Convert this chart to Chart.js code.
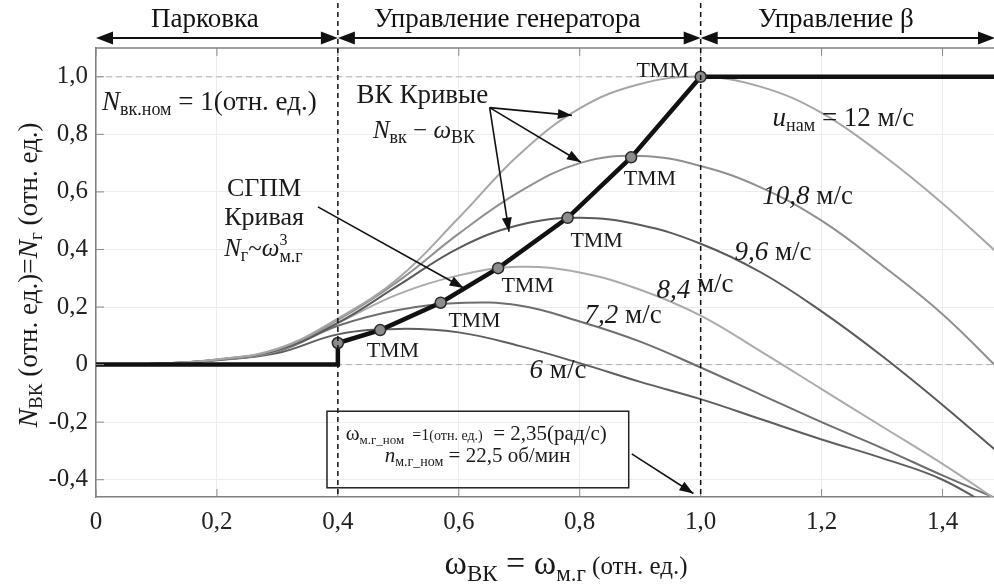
<!DOCTYPE html>
<html lang="ru">
<head>
  <meta charset="UTF-8">
  <title>Кривые ВК и СГПМ</title>
  <script src="https://cdn.jsdelivr.net/npm/chart.js"></script>
  <style>
    html, body { margin: 0; padding: 0; background: #fff; overflow: hidden; }
    #wrap { width: 1010px; height: 587px; }
  </style>
</head>
<body>
<div id="wrap"><canvas id="chart"></canvas></div>
<script>
  // данные
  const omega = [0, 0.1, 0.2, 0.3, 0.4, 0.5, 0.6, 0.7, 0.8, 0.9, 1.0, 1.1, 1.2, 1.3, 1.4, 1.5];
  const n120 = [0, 0.003, 0.018, 0.055, 0.16, 0.30, 0.51, 0.73, 0.89, 0.975, 1.0, 0.965, 0.875, 0.73, 0.56, 0.37];
  const n108 = [0, 0.003, 0.018, 0.053, 0.155, 0.29, 0.455, 0.60, 0.70, 0.725, 0.69, 0.615, 0.50, 0.345, 0.175, -0.03];
  const n096 = [0, 0.003, 0.017, 0.05, 0.145, 0.275, 0.405, 0.485, 0.51, 0.485, 0.42, 0.32, 0.185, 0.03, -0.14, -0.32];
  const n084 = [0, 0.003, 0.017, 0.048, 0.145, 0.245, 0.31, 0.34, 0.32, 0.26, 0.17, 0.045, -0.085, -0.215, -0.345, -0.485];
  const n072 = [0, 0.003, 0.016, 0.045, 0.135, 0.19, 0.214, 0.205, 0.15, 0.08, -0.01, -0.105, -0.20, -0.29, -0.385, -0.475];
  const n060 = [0, 0.003, 0.015, 0.04, 0.105, 0.124, 0.112, 0.065, 0.005, -0.06, -0.12, -0.19, -0.26, -0.325, -0.40, -0.52];
  const curveColors = ['#a6a6a6', '#909090', '#5a5a5a', '#ababab', '#6e6e6e', '#5e5e5e'];

  // кривая СГПМ и точки ТММ
  const mpptX = [0, 0.4, 0.4, 0.47, 0.57, 0.665, 0.78, 0.885, 1.0, 1.5];
  const mpptY = [0, 0, 0.075, 0.12, 0.215, 0.335, 0.51, 0.72, 1.0, 1.0];
  const tmmX = [0.4, 0.47, 0.57, 0.665, 0.78, 0.885, 1.0];
  const tmmY = [0.075, 0.12, 0.215, 0.335, 0.51, 0.72, 1.0];

  const xTicks = [0, 0.2, 0.4, 0.6, 0.8, 1.0, 1.2, 1.4];
  const yTicks = [-0.4, -0.2, 0, 0.2, 0.4, 0.6, 0.8, 1.0];
  const regionEdges = [0, 0.4, 1.0, 1.5];
  const regionLabels = ['Парковка', 'Управление генератора', 'Управление β'];

  const SERIF = '"Liberation Serif", "DejaVu Serif", serif';
  const fmt = v => v === 0 ? '0' : v.toFixed(1).replace('.', ',');
  const pts = (xs, ys) => xs.map((x, i) => ({ x, y: ys[i] }));

  const curves = [n120, n108, n096, n084, n072, n060].map((ys, i) => ({
    data: pts(omega, ys),
    borderColor: curveColors[i],
    borderWidth: 2,
    pointRadius: 0,
    tension: 0.4,
    order: 3
  }));

  const datasets = [
    { data: pts(tmmX, tmmY), showLine: false, pointRadius: 5.5, pointBackgroundColor: '#8c8c8c',
      pointBorderColor: '#2a2a2a', pointBorderWidth: 1.5, order: 0 },
    { data: pts(mpptX, mpptY), borderColor: '#111', borderWidth: 4.5, pointRadius: 0, tension: 0, order: 1 },
    ...curves,
    { data: pts([0, 1.5], [1, 1]), borderColor: '#b0b0b0', borderWidth: 1, borderDash: [6, 4], pointRadius: 0, order: 5 },
    { data: pts([0, 1.5], [0, 0]), borderColor: '#b0b0b0', borderWidth: 1, borderDash: [6, 4], pointRadius: 0, order: 5 }
  ];

  // текст с индексами: [текст, размер, стиль, сдвиг, продвигать]
  function rich(ctx, parts, x, y, align) {
    const font = p => `${p[2] || ''} ${p[1]}px ${SERIF}`;
    let w = 0;
    parts.forEach(p => { ctx.font = font(p); if (p[4] !== false) w += ctx.measureText(p[0]).width; });
    let cx = align === 'center' ? x - w / 2 : x;
    parts.forEach(p => {
      ctx.font = font(p);
      ctx.fillText(p[0], cx, y + (p[3] || 0));
      if (p[4] !== false) cx += ctx.measureText(p[0]).width;
    });
  }

  function head(ctx, x1, y1, x2, y2, len, hw) {
    const a = Math.atan2(y2 - y1, x2 - x1);
    ctx.beginPath();
    ctx.moveTo(x2, y2);
    ctx.lineTo(x2 - len * Math.cos(a) + hw * Math.sin(a), y2 - len * Math.sin(a) - hw * Math.cos(a));
    ctx.lineTo(x2 - len * Math.cos(a) - hw * Math.sin(a), y2 - len * Math.sin(a) + hw * Math.cos(a));
    ctx.closePath();
    ctx.fill();
  }

  function arrow(ctx, x1, y1, x2, y2) {
    ctx.beginPath(); ctx.moveTo(x1, y1); ctx.lineTo(x2, y2); ctx.stroke();
    head(ctx, x1, y1, x2, y2, 14, 5);
  }

  const decor = {
    id: 'decor',
    afterDraw(chart) {
      const { ctx, chartArea: a, scales: { x, y } } = chart;
      const P = (xv, yv) => [x.getPixelForValue(xv), y.getPixelForValue(yv)];
      const line = (x1, y1, x2, y2) => { ctx.beginPath(); ctx.moveTo(x1, y1); ctx.lineTo(x2, y2); ctx.stroke(); };
      ctx.save();

      // рамка и внутренние засечки
      ctx.strokeStyle = '#808080'; ctx.lineWidth = 1.5;
      line(a.left, a.top, a.right, a.top);
      line(a.right, a.top, a.right, a.bottom);
      ctx.lineWidth = 1; ctx.strokeStyle = '#8a8a8a';
      xTicks.forEach(v => { const px = x.getPixelForValue(v); line(px, a.bottom, px, a.bottom - 8); line(px, a.top, px, a.top + 8); });
      yTicks.forEach(v => { const py = y.getPixelForValue(v); line(a.left, py, a.left + 8, py); line(a.right, py, a.right - 9, py); });

      // границы режимов
      ctx.strokeStyle = '#111'; ctx.lineWidth = 1.5; ctx.setLineDash([5, 4]);
      [regionEdges[1], regionEdges[2]].forEach(v => { const px = x.getPixelForValue(v); line(px, 3, px, a.bottom); });
      ctx.setLineDash([]);

      // стрелки режимов сверху
      ctx.fillStyle = '#111'; ctx.strokeStyle = '#111'; ctx.lineWidth = 2;
      const ay = 38;
      for (let i = 0; i < 3; i++) {
        const l = x.getPixelForValue(regionEdges[i]);
        const r = Math.min(x.getPixelForValue(regionEdges[i + 1]), 995);
        line(l + 4, ay, r - 4, ay);
        head(ctx, r - 10, ay, r, ay, 17, 6.5);
        head(ctx, l + 10, ay, l, ay, 17, 6.5);
        ctx.font = `27px ${SERIF}`; ctx.textAlign = 'center'; ctx.textBaseline = 'alphabetic';
        ctx.fillText(regionLabels[i], (l + r) / 2 - 12, 27);
      }
      ctx.textAlign = 'left';

      // подписи
      ctx.fillStyle = '#1a1a1a';
      let p = P(0.01, 0.883);
      rich(ctx, [['N', 27, 'italic'], ['вк.ном', 18, '', 5], [' = 1(отн. ед.)', 27]], p[0], p[1]);
      p = P(0.431, 0.91);
      rich(ctx, [['ВК Кривые', 27]], p[0], p[1]);
      p = P(0.458, 0.786);
      rich(ctx, [['N', 25, 'italic'], ['вк', 18, '', 5], [' − ', 25], ['ω', 25, 'italic'], ['ВК', 18, '', 5]], p[0], p[1]);
      p = P(0.278, 0.586);
      rich(ctx, [['СГПМ', 26]], p[0], p[1], 'center');
      p = P(0.278, 0.486);
      rich(ctx, [['Кривая', 26]], p[0], p[1], 'center');
      p = P(0.212, 0.376);
      rich(ctx, [['N', 25, 'italic'], ['г', 18, '', 5], ['~', 25], ['ω', 25, 'italic'], ['3', 16, '', -11, false], ['м.г', 18, '', 6]], p[0], p[1]);

      // ТММ
      [[0.937, 1.0], [0.916, 0.624], [0.828, 0.41], [0.714, 0.252], [0.626, 0.131], [0.491, 0.028]].forEach(t => {
        const q = P(t[0], t[1]);
        rich(ctx, [['ТММ', 22]], q[0], q[1], 'center');
      });

      // скорости ветра
      p = P(1.119, 0.828);
      rich(ctx, [['u', 27, 'italic'], ['нам', 18, '', 5], [' = 12 м/с', 27]], p[0], p[1]);
      p = P(1.102, 0.559);
      rich(ctx, [['10,8', 27, 'italic'], [' м/с', 27]], p[0], p[1]);
      p = P(1.056, 0.362);
      rich(ctx, [['9,6', 27, 'italic'], [' м/с', 27]], p[0], p[1]);
      p = P(0.927, 0.231);
      rich(ctx, [['8,4', 27, 'italic'], [' м/с', 27, '', -6]], p[0], p[1]);
      p = P(0.808, 0.145);
      rich(ctx, [['7,2', 27, 'italic'], [' м/с', 27]], p[0], p[1]);
      p = P(0.717, -0.045);
      rich(ctx, [['6', 27, 'italic'], [' м/с', 27]], p[0], p[1]);

      // стрелки-указатели
      ctx.strokeStyle = '#111'; ctx.fillStyle = '#111'; ctx.lineWidth = 1.6;
      const from = P(0.651, 0.893);
      [[0.787, 0.866], [0.802, 0.703], [0.683, 0.462]].forEach(t => {
        const q = P(t[0], t[1]);
        arrow(ctx, from[0], from[1], q[0], q[1]);
      });
      let s = P(0.367, 0.548), e = P(0.608, 0.266);
      arrow(ctx, s[0], s[1], e[0], e[1]);
      s = P(0.886, -0.31); e = P(0.988, -0.448);
      arrow(ctx, s[0], s[1], e[0], e[1]);

      // рамка с номинальными значениями
      const b1 = P(0.382, -0.162), b2 = P(0.881, -0.428);
      ctx.lineWidth = 1.5; ctx.strokeStyle = '#222';
      ctx.strokeRect(b1[0], b1[1], b2[0] - b1[0], b2[1] - b1[1]);
      ctx.fillStyle = '#1a1a1a';
      p = P(0.413, -0.262);
      rich(ctx, [['ω', 21], ['м.г_ном', 13, '', 4], ['  =1', 16], ['(отн. ед.)', 14], ['  = 2,35(рад/с)', 21]], p[0], p[1]);
      p = P(0.631, -0.338);
      rich(ctx, [['n', 21, 'italic'], ['м.г_ном', 14, '', 4], [' = 22,5 об/мин', 21]], p[0], p[1], 'center');

      // подписи осей
      rich(ctx, [['ω', 34], ['ВК', 23, '', 7], [' = ', 34], ['ω', 34], ['м.г', 23, '', 7], [' (отн. ед.)', 25]], 566, 574, 'center');
      ctx.translate(37, 275);
      ctx.rotate(-Math.PI / 2);
      rich(ctx, [['N', 28, 'italic'], ['ВК', 19, '', 5], [' (отн. ед.)=', 27], ['N', 28, 'italic'], ['г', 19, '', 5], [' (отн. ед.)', 27]], 0, 0, 'center');
      ctx.restore();
    }
  };

  new Chart(document.getElementById('chart'), {
    type: 'line',
    data: { datasets },
    options: {
      responsive: true,
      maintainAspectRatio: false,
      animation: false,
      layout: { padding: { top: 48, right: 7, bottom: 0, left: 0 } },
      plugins: { legend: { display: false }, tooltip: { enabled: false } },
      scales: {
        x: {
          type: 'linear', min: 0, max: 1.5,
          afterBuildTicks: axis => { axis.ticks = xTicks.map(v => ({ value: v })); },
          afterFit: axis => { axis.height = 90; },
          grid: { color: '#ececec', drawTicks: false },
          border: { color: '#808080', width: 1.5 },
          ticks: { padding: 10, color: '#222', font: { family: SERIF, size: 25 }, callback: fmt, maxRotation: 0, autoSkip: false }
        },
        y: {
          type: 'linear', min: -0.46, max: 1.1,
          afterBuildTicks: axis => { axis.ticks = yTicks.map(v => ({ value: v })); },
          afterFit: axis => { axis.width = 96; },
          grid: { color: '#ececec', drawTicks: false },
          border: { color: '#808080', width: 1.5 },
          ticks: { padding: 8, color: '#222', font: { family: SERIF, size: 25 }, callback: fmt, autoSkip: false }
        }
      }
    },
    plugins: [decor]
  });
</script>
</body>
</html>
